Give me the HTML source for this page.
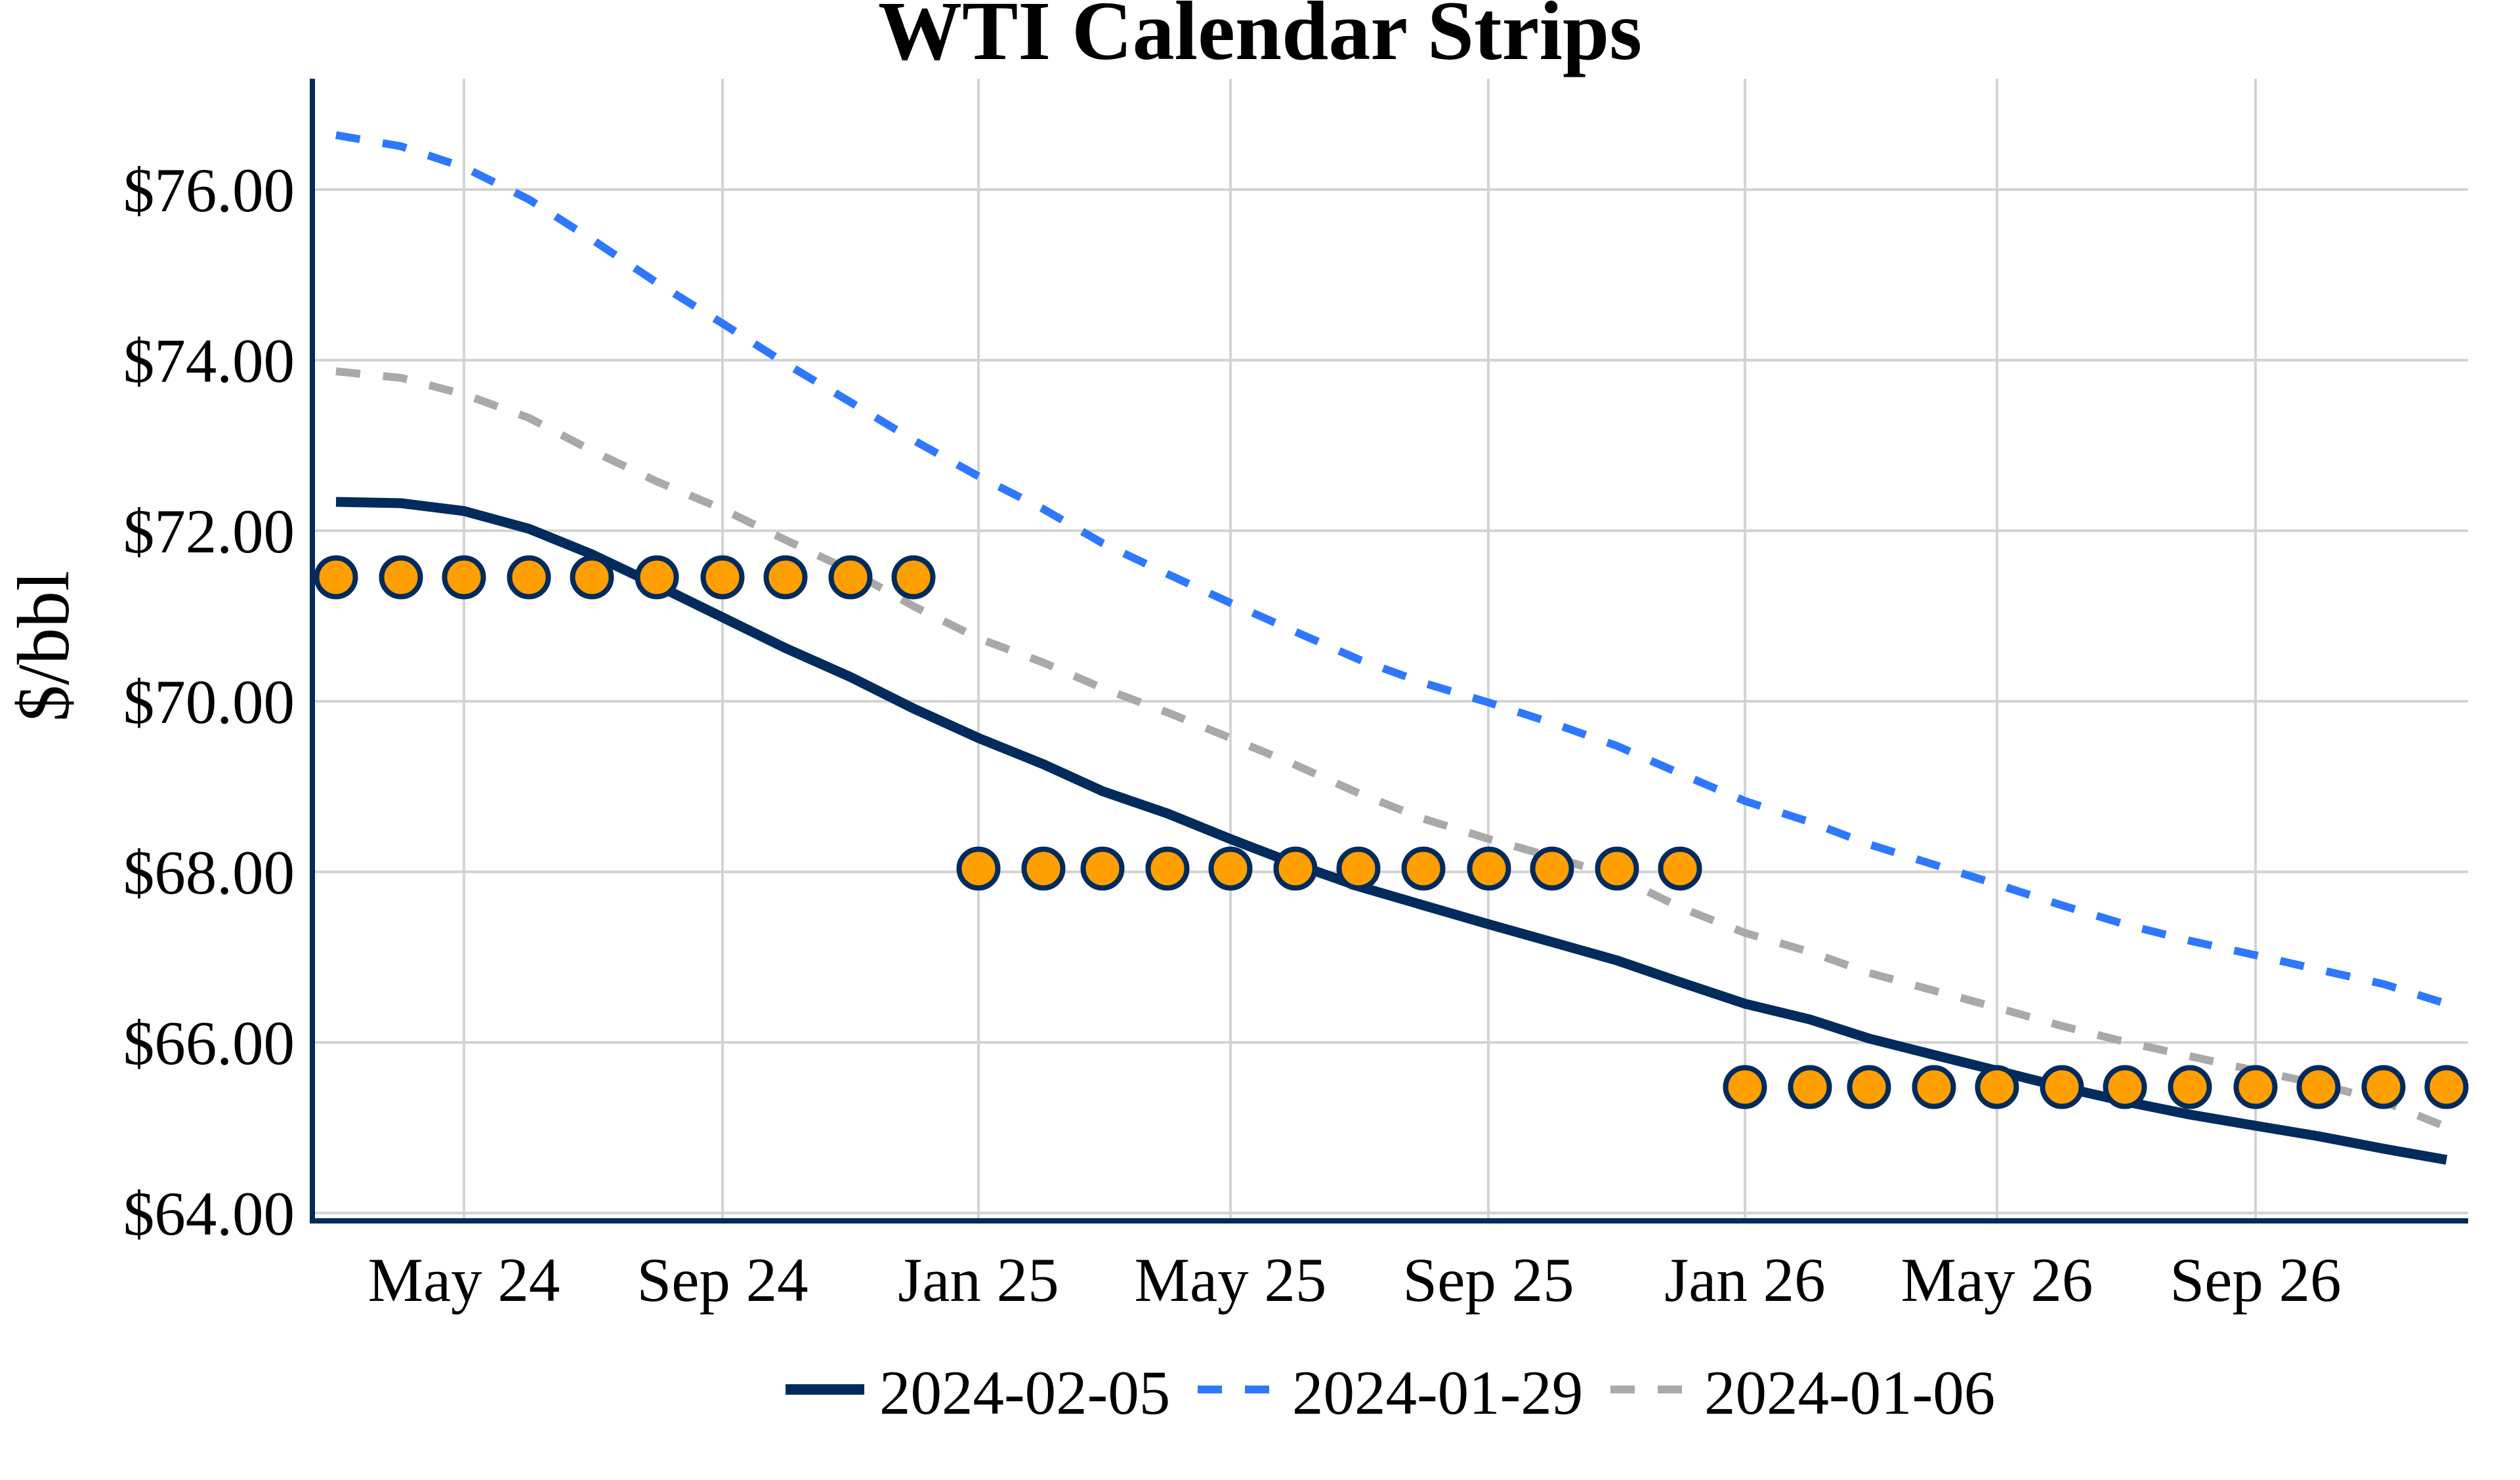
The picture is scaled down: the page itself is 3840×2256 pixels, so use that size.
<!DOCTYPE html>
<html><head><meta charset="utf-8"><style>
html,body{margin:0;padding:0;background:#fff;}
svg{display:block;}
text{font-family:"Liberation Serif",serif;fill:#000;}
</style></head><body>
<svg width="3840" height="2256" viewBox="0 0 3840 2256" xmlns="http://www.w3.org/2000/svg">
<rect width="3840" height="2256" fill="#fff"/>
<text x="1920" y="90" font-size="128" font-weight="bold" text-anchor="middle">WTI Calendar Strips</text>
<g stroke="#d3d3d3" stroke-width="4">
<line x1="476" y1="289" x2="3761" y2="289"/>
<line x1="476" y1="549" x2="3761" y2="549"/>
<line x1="476" y1="809" x2="3761" y2="809"/>
<line x1="476" y1="1069" x2="3761" y2="1069"/>
<line x1="476" y1="1329" x2="3761" y2="1329"/>
<line x1="476" y1="1589" x2="3761" y2="1589"/>
<line x1="476" y1="1849" x2="3761" y2="1849"/>
<line x1="707" y1="120" x2="707" y2="1861"/>
<line x1="1101" y1="120" x2="1101" y2="1861"/>
<line x1="1491" y1="120" x2="1491" y2="1861"/>
<line x1="1875" y1="120" x2="1875" y2="1861"/>
<line x1="2268" y1="120" x2="2268" y2="1861"/>
<line x1="2659" y1="120" x2="2659" y2="1861"/>
<line x1="3043" y1="120" x2="3043" y2="1861"/>
<line x1="3437" y1="120" x2="3437" y2="1861"/>
</g>
<g font-size="95" text-anchor="end">
<text x="449" y="322">$76.00</text>
<text x="449" y="582">$74.00</text>
<text x="449" y="842">$72.00</text>
<text x="449" y="1102">$70.00</text>
<text x="449" y="1362">$68.00</text>
<text x="449" y="1622">$66.00</text>
<text x="449" y="1882">$64.00</text>
</g>
<g font-size="95" text-anchor="middle">
<text x="707" y="1983">May 24</text>
<text x="1101" y="1983">Sep 24</text>
<text x="1491" y="1983">Jan 25</text>
<text x="1875" y="1983">May 25</text>
<text x="2268" y="1983">Sep 25</text>
<text x="2659" y="1983">Jan 26</text>
<text x="3043" y="1983">May 26</text>
<text x="3437" y="1983">Sep 26</text>
</g>
<text transform="translate(104,985) rotate(-90)" font-size="112" text-anchor="middle">$/bbl</text>

<polyline fill="none" stroke="#a9a9a9" stroke-width="12" stroke-dasharray="37 35" points="512,566 611,576 707,601 806,637 902,687 1001,734 1101,776 1197,823 1296,870 1392,924 1491,973 1590,1010 1680,1049 1779,1086 1875,1125 1974,1166 2070,1209 2169,1248 2269,1279 2365,1306 2464,1336 2560,1383 2659,1422 2758,1451 2848,1483 2947,1510 3043,1536 3142,1564 3238,1588 3337,1610 3437,1632 3533,1652 3632,1679 3728,1718"/>
<polyline fill="none" stroke="#2e78ff" stroke-width="12" stroke-dasharray="37 35" points="512,206 611,223 707,255 806,304 902,365 1001,431 1101,493 1197,554 1296,613 1392,671 1491,726 1590,776 1680,828 1779,875 1875,919 1974,963 2070,1005 2169,1041 2269,1071 2365,1102 2464,1137 2560,1179 2659,1221 2758,1253 2848,1287 2947,1318 3043,1348 3142,1380 3238,1409 3337,1434 3437,1456 3533,1478 3632,1500 3728,1530"/>
<polyline fill="none" stroke="#002b5c" stroke-width="15" stroke-linejoin="round" points="512,765 611,767 707,779 806,806 902,845 1001,892 1101,941 1197,988 1296,1032 1392,1080 1491,1125 1590,1165 1680,1206 1779,1240 1875,1279 1974,1317 2070,1351 2169,1380 2269,1409 2365,1436 2464,1464 2560,1497 2659,1530 2758,1554 2848,1583 2947,1608 3043,1632 3142,1657 3238,1679 3337,1699 3437,1716 3533,1732 3632,1751 3728,1768"/>

<g fill="#ff9f00" stroke="#002b5c" stroke-width="8">
<circle cx="512" cy="880" r="29.5"/><circle cx="611" cy="880" r="29.5"/><circle cx="707" cy="880" r="29.5"/><circle cx="806" cy="880" r="29.5"/><circle cx="902" cy="880" r="29.5"/><circle cx="1001" cy="880" r="29.5"/><circle cx="1101" cy="880" r="29.5"/><circle cx="1197" cy="880" r="29.5"/><circle cx="1296" cy="880" r="29.5"/><circle cx="1392" cy="880" r="29.5"/>
<circle cx="1491" cy="1324" r="29.5"/><circle cx="1590" cy="1324" r="29.5"/><circle cx="1680" cy="1324" r="29.5"/><circle cx="1779" cy="1324" r="29.5"/><circle cx="1875" cy="1324" r="29.5"/><circle cx="1974" cy="1324" r="29.5"/><circle cx="2070" cy="1324" r="29.5"/><circle cx="2169" cy="1324" r="29.5"/><circle cx="2269" cy="1324" r="29.5"/><circle cx="2365" cy="1324" r="29.5"/><circle cx="2464" cy="1324" r="29.5"/><circle cx="2560" cy="1324" r="29.5"/>
<circle cx="2659" cy="1657" r="29.5"/><circle cx="2758" cy="1657" r="29.5"/><circle cx="2848" cy="1657" r="29.5"/><circle cx="2947" cy="1657" r="29.5"/><circle cx="3043" cy="1657" r="29.5"/><circle cx="3142" cy="1657" r="29.5"/><circle cx="3238" cy="1657" r="29.5"/><circle cx="3337" cy="1657" r="29.5"/><circle cx="3437" cy="1657" r="29.5"/><circle cx="3533" cy="1657" r="29.5"/><circle cx="3632" cy="1657" r="29.5"/><circle cx="3728" cy="1657" r="29.5"/>
</g>

<line x1="476" y1="120" x2="476" y2="1865" stroke="#002b5c" stroke-width="8"/>
<line x1="472" y1="1861" x2="3761" y2="1861" stroke="#002b5c" stroke-width="8"/>

<line x1="1197" y1="2118" x2="1317" y2="2118" stroke="#002b5c" stroke-width="16"/>
<text x="1340" y="2155" font-size="95">2024-02-05</text>
<line x1="1825" y1="2118" x2="1935" y2="2118" stroke="#2e78ff" stroke-width="12" stroke-dasharray="37 35"/>
<text x="1969" y="2155" font-size="95">2024-01-29</text>
<line x1="2454" y1="2118" x2="2564" y2="2118" stroke="#a9a9a9" stroke-width="12" stroke-dasharray="37 35"/>
<text x="2597" y="2155" font-size="95">2024-01-06</text>
</svg>
</body></html>
